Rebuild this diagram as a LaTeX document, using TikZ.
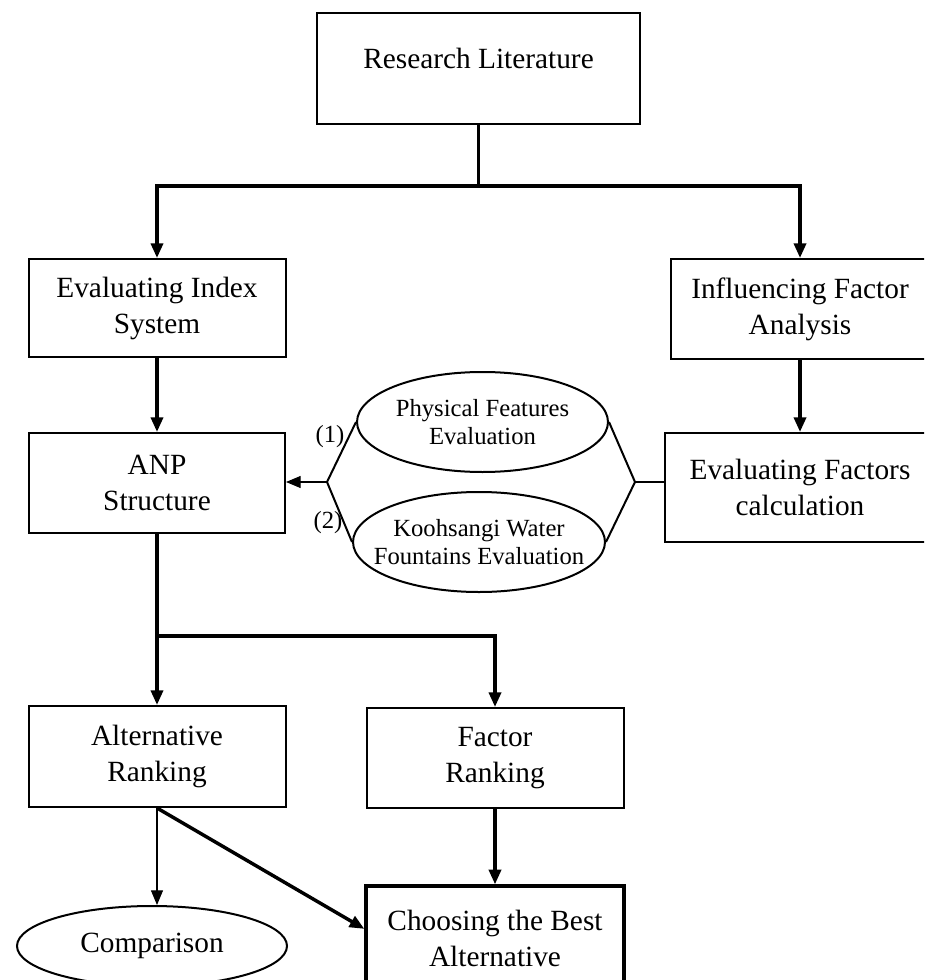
\documentclass[tikz,border=0pt]{standalone}
\usepackage{fontspec}
\setmainfont{Liberation Serif}
\usetikzlibrary{arrows.meta,shapes.geometric}

\begin{document}
\begin{tikzpicture}[x=0.75pt,y=-0.75pt,
  box/.style={draw,line width=1.5pt,align=center,font=\fontsize{22}{27}\selectfont},
  oval/.style={draw,ellipse,line width=1.5pt,align=center,inner xsep=-20pt,inner ysep=0pt,font=\fontsize{18.5}{21}\selectfont},
  lbl/.style={font=\fontsize{18.5}{21}\selectfont,inner sep=0pt},
  thickline/.style={line width=2.6pt},
  midline/.style={line width=1.5pt},
  thinline/.style={line width=0.8pt},
  arr/.style={-{Triangle[length=11pt,width=9pt]}}]
\useasboundingbox (0,0) rectangle (924,980);
\clip (0,0) rectangle (924,980);
% boxes
\node[box,anchor=base,minimum width=242.25pt,text height=42pt,text depth=41.25pt,inner ysep=0pt] (rl) at (478.5,69) {Research Literature};
\node[box,minimum width=192.75pt,minimum height=73.5pt] (eis) at (157,308) {Evaluating Index\\System};
\node[box,minimum width=193.5pt,minimum height=75pt] (ifa) at (800,309) {Influencing Factor\\Analysis};
\node[box,minimum width=192pt,minimum height=75pt] (anp) at (157,483) {ANP\\Structure};
\node[box,minimum width=202.5pt,minimum height=81.75pt] (efc) at (800,487.5) {Evaluating Factors\\calculation};
\node[box,minimum width=192.75pt,minimum height=75.75pt] (ar) at (157,756.5) {Alternative\\Ranking};
\node[box,minimum width=192.75pt,minimum height=75pt] (fr) at (495,758) {Factor\\Ranking};
\node[box,line width=2.5pt,minimum width=193.5pt,minimum height=78pt] (cba) at (495,938) {Choosing the Best\\Alternative};
% ovals
\node[oval,minimum width=188.25pt,minimum height=75pt] (pf) at (482.5,422) {Physical Features\\Evaluation};
\node[oval,minimum width=189pt,minimum height=75pt] (kw) at (479,542) {Koohsangi Water\\Fountains Evaluation};
\node[oval,font=\fontsize{22}{27}\selectfont,minimum width=202.5pt,minimum height=60pt] (com) at (152,946) {Comparison};
\node[lbl] (n1) at (330,437) {(1)};
\node[lbl] (n2) at (328,523) {(2)};
% connectors
\coordinate (top) at (478.5,186);
\coordinate (low) at (157,636);
\coordinate (vl) at (327,482);
\coordinate (vr) at (635,482);
\draw[thickline] (rl.south) -- (top);
\draw[thickline,arr] (top) -| (eis.north);
\draw[thickline,arr] (top) -| (ifa.north);
\draw[thickline,arr] (eis.south) -- (anp.north);
\draw[thickline,arr] (ifa.south) -- (efc.north);
\draw[midline] (pf.west) -- (vl) -- (kw.west);
\draw[midline] (pf.east) -- (vr) -- (kw.east);
\draw[midline] (vr) -- (vr -| efc.west);
\draw[thinline,arr] (vl) -- (vl -| anp.east);
\draw[thickline] (anp.south) -- (low);
\draw[thickline,arr] (low) -- (ar.north);
\draw[thickline,arr] (low) -| (fr.north);
\draw[thinline,arr] (ar.south) -- (ar.south |- com.north);
\draw[thickline,arr] (ar.south) -- (cba.176);
\draw[thickline,arr] (fr.south) -- (cba.north);
\end{tikzpicture}
\end{document}
